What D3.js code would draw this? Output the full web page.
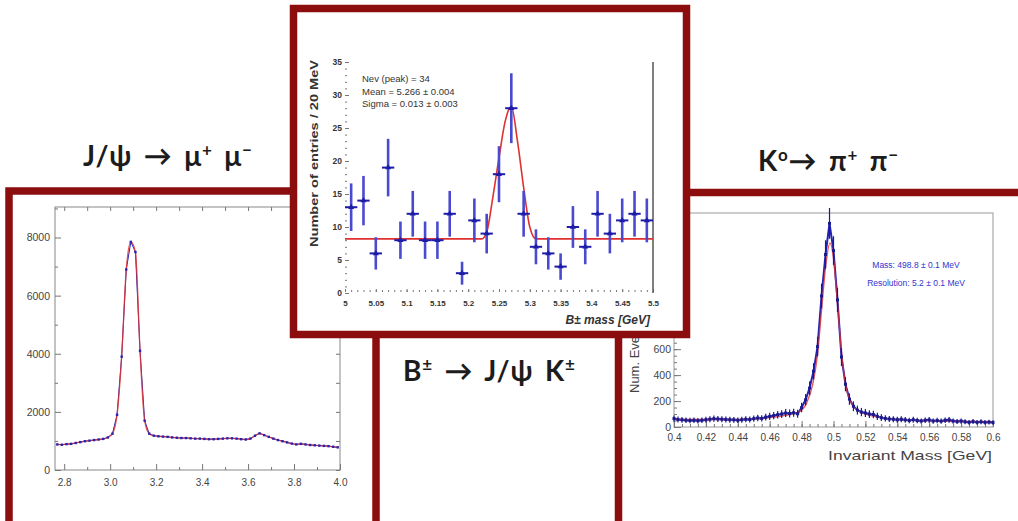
<!DOCTYPE html>
<html>
<head>
<meta charset="utf-8">
<script src="https://cdn.jsdelivr.net/npm/d3@7"></script>
<style>
  body { margin: 0; background: #fff; }
  svg { display: block; }
</style>
</head>
<body>
<svg id="chart"></svg>
<script>
// ---------- J/psi -> mu+ mu- (left panel) ----------
const jpsiMass = [2.77, 2.79, 2.81, 2.83, 2.85, 2.87, 2.89, 2.91, 2.93, 2.95, 2.97, 2.99,
  3.01, 3.03, 3.05, 3.07, 3.09, 3.11, 3.13, 3.15, 3.17, 3.19,
  3.21, 3.23, 3.25, 3.27, 3.29, 3.31, 3.33, 3.35, 3.37, 3.39,
  3.41, 3.43, 3.45, 3.47, 3.49, 3.51, 3.53, 3.55, 3.57, 3.59,
  3.61, 3.63, 3.65, 3.67, 3.69, 3.71, 3.73, 3.75, 3.77, 3.79,
  3.81, 3.83, 3.85, 3.87, 3.89, 3.91, 3.93, 3.95, 3.97, 3.99];
const jpsiCounts = [880, 870, 890, 900, 930, 960, 990, 1010, 1030, 1050, 1070, 1120,
  1250, 1900, 3900, 6900, 7850, 7500, 4100, 1700, 1250, 1180,
  1160, 1150, 1140, 1120, 1110, 1100, 1100, 1090, 1080, 1080,
  1070, 1060, 1060, 1070, 1080, 1090, 1090, 1080, 1060, 1050,
  1080, 1180, 1260, 1200, 1140, 1080, 1030, 990, 950, 910,
  880, 900, 880, 860, 850, 840, 830, 820, 800, 780];
const jpsiXTicks = [2.8, 3.0, 3.2, 3.4, 3.6, 3.8, 4.0];
const jpsiXMinor = [2.9, 3.1, 3.3, 3.5, 3.7, 3.9];
const jpsiYTicks = [0, 2000, 4000, 6000, 8000];
const jpsiYMinor = [1000, 3000, 5000, 7000, 9000];

// ---------- B+- -> J/psi K+- (centre panel) ----------
const bMass = [5.01, 5.03, 5.05, 5.07, 5.09, 5.11, 5.13, 5.15, 5.17, 5.19, 5.21, 5.23,
  5.25, 5.27, 5.29, 5.31, 5.33, 5.35, 5.37, 5.39, 5.41, 5.43, 5.45, 5.47, 5.49];
const bCounts = [13, 14, 6, 19, 8, 12, 8, 8, 12, 3, 11, 9,
  18, 28, 12, 7, 6, 4, 10, 7, 12, 9, 11, 12, 11];
const bFitMass = [5.0, 5.222, 5.23, 5.24, 5.25, 5.26, 5.27, 5.28, 5.29, 5.30, 5.31, 5.5];
const bFitCount = [8.2, 8.2, 9.2, 14.5, 20.5, 26, 28.3, 23, 16, 10, 8.2, 8.2];
const bXTicks = [5, 5.05, 5.1, 5.15, 5.2, 5.25, 5.3, 5.35, 5.4, 5.45, 5.5];
const bYTicks = [0, 5, 10, 15, 20, 25, 30, 35];
const bStats = ["Nev (peak)  =  34", "Mean  =  5.266 \u00b1 0.004", "Sigma  =  0.013 \u00b1 0.003"];

// ---------- K0 -> pi+ pi- (right panel) ----------
const kMass = [0.4, 0.4025, 0.405, 0.4075, 0.41, 0.4125, 0.415, 0.4175, 0.42, 0.4225,
  0.425, 0.4275, 0.43, 0.4325, 0.435, 0.4375, 0.44, 0.4425, 0.445, 0.4475,
  0.45, 0.4525, 0.455, 0.4575, 0.46, 0.4625, 0.465, 0.4675, 0.47, 0.4725,
  0.475, 0.4775, 0.48, 0.4825, 0.485, 0.4875, 0.49, 0.4925, 0.495, 0.4975,
  0.5, 0.5025, 0.505, 0.5075, 0.51, 0.5125, 0.515, 0.5175, 0.52, 0.5225,
  0.525, 0.5275, 0.53, 0.5325, 0.535, 0.5375, 0.54, 0.5425, 0.545, 0.5475,
  0.55, 0.5525, 0.555, 0.5575, 0.56, 0.5625, 0.565, 0.5675, 0.57, 0.5725,
  0.575, 0.5775, 0.58, 0.5825, 0.585, 0.5875, 0.59, 0.5925, 0.595, 0.5975, 0.6];
const kCounts = [65, 58, 55, 52, 50, 52, 48, 52, 56, 60,
  64, 62, 60, 58, 56, 55, 52, 56, 60, 58,
  64, 70, 66, 76, 82, 88, 95, 100, 108, 104,
  110, 102, 150, 210, 300, 430, 620, 1010, 1330, 1570,
  1360, 980, 540, 330, 215, 160, 130, 115, 108, 100,
  96, 82, 72, 66, 62, 60, 56, 60, 55, 50,
  56, 50, 46, 52, 55, 46, 50, 45, 52, 55,
  46, 42, 46, 40, 36, 42, 36, 40, 36, 38, 35];
const kFitMass = [0.40, 0.44, 0.46, 0.47, 0.478, 0.483, 0.487, 0.490, 0.4925, 0.495, 0.4978,
  0.500, 0.5025, 0.505, 0.508, 0.512, 0.517, 0.525, 0.535, 0.55, 0.60];
const kFitCount = [58, 58, 72, 90, 115, 180, 330, 560, 900, 1230, 1420,
  1300, 950, 580, 300, 170, 115, 85, 62, 52, 40];
const kXTicks = [0.4, 0.42, 0.44, 0.46, 0.48, 0.5, 0.52, 0.54, 0.56, 0.58, 0.6];
const kYTicks = [0, 200, 400, 600];
const kYHidden = [800, 1000, 1200, 1400, 1600];
const kStats = ["Mass: 498.8 \u00b1 0.1 MeV", "Resolution: 5.2 \u00b1 0.1 MeV"];

// ---------- setup ----------
const width = 1018;
const height = 521;
const svg = d3.select("#chart").attr("width", width).attr("height", height);

const frameColor = "#8b0d0d";
const blue = "#2323b4";
const red = "#e03030";
const tickFont = "Liberation Sans, Arial, sans-serif";
const titleFont = "Lato, 'Open Sans', sans-serif";

function frame(x, y, w, h) {
  svg.append("rect")
    .attr("x", x).attr("y", y)
    .attr("width", w).attr("height", h)
    .attr("fill", "#fff")
    .attr("stroke", frameColor)
    .attr("stroke-width", 7.5);
}

// styles an axis group: gray lines, small text
function styleAxis(g, size, color) {
  g.selectAll("path").attr("stroke", "#888");
  g.selectAll("line").attr("stroke", "#777");
  g.selectAll("text")
    .attr("font-family", tickFont)
    .attr("font-size", size)
    .attr("fill", color || "#444");
}

// title with superscripts; pending dy puts the baseline back after a sup
function title(x, y, parts) {
  const t = svg.append("text")
    .attr("x", x).attr("y", y)
    .attr("font-family", titleFont)
    .attr("font-weight", 700)
    .attr("font-size", 28)
    .attr("letter-spacing", 0.8)
    .attr("word-spacing", 4)
    .attr("fill", "#1c1c1c");
  let back = 0;
  parts.forEach(p => {
    if (p.sup) {
      t.append("tspan").attr("dy", -10 + back).attr("font-size", 17).text(p.sup);
      back = 10;
    } else {
      t.append("tspan").attr("dy", back).text(p.text);
      back = 0;
    }
  });
}

// ================= left panel =================
frame(9, 191, 367, 345);

const xL = d3.scaleLinear().domain([2.76, 4.0]).range([55, 340]);
const yL = d3.scaleLinear().domain([0, 9050]).range([470, 207]);

svg.append("rect")
  .attr("x", 55).attr("y", 207).attr("width", 285).attr("height", 263)
  .attr("fill", "none").attr("stroke", "#888");

const gL = svg.append("g");
gL.append("g").attr("transform", "translate(0,470)")
  .call(d3.axisBottom(xL).tickValues(jpsiXTicks).tickSize(-6).tickPadding(9).tickFormat(d3.format(".1f")))
  .call(g => styleAxis(g, 10));
gL.append("g").attr("transform", "translate(0,470)")
  .call(d3.axisBottom(xL).tickValues(jpsiXMinor).tickSize(-3).tickFormat(""))
  .call(g => styleAxis(g, 10));
gL.append("g").attr("transform", "translate(0,207)")
  .call(d3.axisTop(xL).tickValues(jpsiXTicks.concat(jpsiXMinor)).tickSize(-4).tickFormat(""))
  .call(g => styleAxis(g, 10));
gL.append("g").attr("transform", "translate(55,0)")
  .call(d3.axisLeft(yL).tickValues(jpsiYTicks).tickSize(-6).tickPadding(5).tickFormat(d3.format("d")))
  .call(g => styleAxis(g, 10.5));
gL.append("g").attr("transform", "translate(55,0)")
  .call(d3.axisLeft(yL).tickValues(jpsiYMinor).tickSize(-3).tickFormat(""))
  .call(g => styleAxis(g, 10));
gL.append("g").attr("transform", "translate(340,0)")
  .call(d3.axisRight(yL).tickValues(jpsiYTicks.concat(jpsiYMinor)).tickSize(-4).tickFormat(""))
  .call(g => styleAxis(g, 10));
gL.selectAll(".domain").remove();

const jpsiData = jpsiMass.map((m, i) => ({ m, n: jpsiCounts[i] }));
svg.append("path")
  .datum(jpsiData)
  .attr("fill", "none").attr("stroke", blue).attr("stroke-width", 1)
  .attr("d", d3.line().x(d => xL(d.m)).y(d => yL(d.n)));
svg.append("path")
  .datum(jpsiData)
  .attr("fill", "none").attr("stroke", red).attr("stroke-width", 1.3).attr("opacity", 0.85)
  .attr("d", d3.line().x(d => xL(d.m)).y(d => yL(d.n)).curve(d3.curveMonotoneX));
svg.append("g").selectAll("rect")
  .data(jpsiData)
  .join("rect")
  .attr("x", d => xL(d.m) - 1.2).attr("y", d => yL(d.n) - 1.2)
  .attr("width", 2.4).attr("height", 2.4)
  .attr("fill", blue);

// ================= right panel =================
frame(618.5, 192.5, 420, 345);

const xR = d3.scaleLinear().domain([0.4, 0.6]).range([674, 993]);
const yR = d3.scaleLinear().domain([0, 1650]).range([427, 213]);

svg.append("rect")
  .attr("x", 674).attr("y", 213).attr("width", 319).attr("height", 214)
  .attr("fill", "none").attr("stroke", "#999");

const gR = svg.append("g");
gR.append("g").attr("transform", "translate(0,427)")
  .call(d3.axisBottom(xR).tickValues(kXTicks).tickSize(-6).tickPadding(7).tickFormat(d3.format("~g")))
  .call(g => styleAxis(g, 10));
gR.append("g").attr("transform", "translate(0,427)")
  .call(d3.axisBottom(xR).ticks(40).tickSize(-3).tickFormat(""))
  .call(g => styleAxis(g, 10));
gR.append("g").attr("transform", "translate(674,0)")
  .call(d3.axisLeft(yR).tickValues(kYTicks).tickSize(-7).tickPadding(3))
  .call(g => styleAxis(g, 10.5));
gR.append("g").attr("transform", "translate(674,0)")
  .call(d3.axisLeft(yR).tickValues(kYHidden).tickSize(-7).tickFormat(""))
  .call(g => styleAxis(g, 10));
gR.append("g").attr("transform", "translate(674,0)")
  .call(d3.axisLeft(yR).ticks(32).tickSize(-3).tickFormat(""))
  .call(g => styleAxis(g, 10));
gR.selectAll(".domain").remove();

svg.append("text")
  .attr("transform", "translate(639,393) rotate(-90)")
  .attr("font-family", tickFont).attr("font-size", 13).attr("fill", "#444")
  .text("Num. Events");
svg.append("text")
  .attr("x", 992).attr("y", 460)
  .attr("text-anchor", "end")
  .attr("font-family", tickFont).attr("font-size", 13).attr("fill", "#444")
  .attr("textLength", 164).attr("lengthAdjust", "spacingAndGlyphs")
  .text("Invariant Mass [GeV]");

const kData = kMass.map((m, i) => ({ m, n: kCounts[i] }));
const kFit = kFitMass.map((m, i) => ({ m, n: kFitCount[i] }));
svg.append("path")
  .datum(kData)
  .attr("fill", "none").attr("stroke", blue).attr("stroke-width", 2)
  .attr("d", d3.line().x(d => xR(d.m)).y(d => yR(d.n)));
svg.append("path")
  .datum(kFit)
  .attr("fill", "none").attr("stroke", red).attr("stroke-width", 1.4).attr("opacity", 0.8)
  .attr("d", d3.line().x(d => xR(d.m)).y(d => yR(d.n)).curve(d3.curveMonotoneX));
const kPts = svg.append("g");
kPts.selectAll("line")
  .data(kData)
  .join("line")
  .attr("x1", d => xR(d.m)).attr("x2", d => xR(d.m))
  .attr("y1", d => yR(d.n + Math.sqrt(d.n) * 3)).attr("y2", d => yR(d.n - Math.sqrt(d.n) * 3))
  .attr("stroke", "#1a1a90").attr("stroke-width", 1.2);
kPts.selectAll("rect")
  .data(kData)
  .join("rect")
  .attr("x", d => xR(d.m) - 1.5).attr("y", d => yR(d.n) - 1.5)
  .attr("width", 3).attr("height", 3)
  .attr("fill", "#1a1a90");

svg.append("g").selectAll("text")
  .data(kStats)
  .join("text")
  .attr("x", 916).attr("y", (d, i) => 268 + i * 18)
  .attr("text-anchor", "middle")
  .attr("font-family", tickFont).attr("font-size", 8.5).attr("fill", "#3333cc")
  .text(d => d);

// ================= titles =================
title(83, 166, [{ text: "J/\u03c8 \u2192 \u03bc" }, { sup: "+" }, { text: " \u03bc" }, { sup: "\u2212" }]);
title(758, 171, [{ text: "K" }, { sup: "o" }, { text: "\u2192 \u03c0" }, { sup: "+" }, { text: " \u03c0" }, { sup: "\u2212" }]);
title(403, 381, [{ text: "B" }, { sup: "\u00b1" }, { text: " \u2192 J/\u03c8 K" }, { sup: "\u00b1" }]);

// ================= centre panel =================
frame(293.5, 8.5, 393, 326);

const xC = d3.scaleLinear().domain([5.0, 5.5]).range([345, 653]);
const yC = d3.scaleLinear().domain([0, 35]).range([293, 62]);

const gC = svg.append("g");
gC.append("g").attr("transform", "translate(0,292)")
  .call(d3.axisBottom(xC).tickValues(bXTicks).tickSize(-3).tickPadding(8).tickFormat(d3.format("~g")))
  .call(g => styleAxis(g, 8, "#333"));
gC.append("g").attr("transform", "translate(0,292)")
  .call(d3.axisBottom(xC).ticks(50).tickSize(-2).tickFormat(""))
  .call(g => styleAxis(g, 8));
gC.append("g").attr("transform", "translate(345,0)")
  .call(d3.axisLeft(yC).tickValues(bYTicks).tickSize(-4).tickPadding(3))
  .call(g => styleAxis(g, 8.5, "#333"));
gC.append("g").attr("transform", "translate(345,0)")
  .call(d3.axisLeft(yC).ticks(35).tickSize(-2).tickFormat(""))
  .call(g => styleAxis(g, 8));
gC.selectAll(".domain").remove();
gC.selectAll("text").attr("font-weight", 700);

svg.append("line")
  .attr("x1", xC(5.5)).attr("x2", xC(5.5))
  .attr("y1", yC(35)).attr("y2", yC(0))
  .attr("stroke", "#555").attr("stroke-width", 1.5);

svg.append("text")
  .attr("transform", "translate(318,153.5) rotate(-90)")
  .attr("text-anchor", "middle")
  .attr("font-family", tickFont).attr("font-size", 11).attr("font-weight", 700).attr("fill", "#333")
  .attr("textLength", 187).attr("lengthAdjust", "spacingAndGlyphs")
  .text("Number of entries / 20 MeV");
svg.append("text")
  .attr("x", 650).attr("y", 324)
  .attr("text-anchor", "end")
  .attr("font-family", tickFont).attr("font-size", 12).attr("font-weight", 700)
  .attr("font-style", "italic").attr("fill", "#333")
  .text("B\u00b1 mass [GeV]");

svg.append("g").selectAll("text")
  .data(bStats)
  .join("text")
  .attr("x", 362).attr("y", (d, i) => 82 + i * 12.5)
  .attr("font-family", tickFont).attr("font-size", 9.5).attr("fill", "#333")
  .text(d => d);

const bFit = bFitMass.map((m, i) => ({ m, n: bFitCount[i] }));
svg.append("path")
  .datum(bFit)
  .attr("fill", "none").attr("stroke", red).attr("stroke-width", 1.6)
  .attr("d", d3.line().x(d => xC(d.m)).y(d => yC(d.n)).curve(d3.curveMonotoneX));

const bData = bMass.map((m, i) => ({ m, n: bCounts[i] }));
const bPts = svg.append("g");
bPts.selectAll("line.err")
  .data(bData)
  .join("line")
  .attr("class", "err")
  .attr("x1", d => xC(d.m)).attr("x2", d => xC(d.m))
  .attr("y1", d => yC(d.n + Math.sqrt(d.n))).attr("y2", d => yC(d.n - Math.sqrt(d.n)))
  .attr("stroke", "#4a4ad0").attr("stroke-width", 2.6);
bPts.selectAll("line.bin")
  .data(bData)
  .join("line")
  .attr("class", "bin")
  .attr("x1", d => xC(d.m - 0.01)).attr("x2", d => xC(d.m + 0.01))
  .attr("y1", d => yC(d.n)).attr("y2", d => yC(d.n))
  .attr("stroke", "#1c1ca8").attr("stroke-width", 2);
bPts.selectAll("path")
  .data(bData)
  .join("path")
  .attr("transform", d => `translate(${xC(d.m)},${yC(d.n)})`)
  .attr("d", d3.symbol(d3.symbolTriangle, 16))
  .attr("fill", "#1c1ca8");
</script>
</body>
</html>
